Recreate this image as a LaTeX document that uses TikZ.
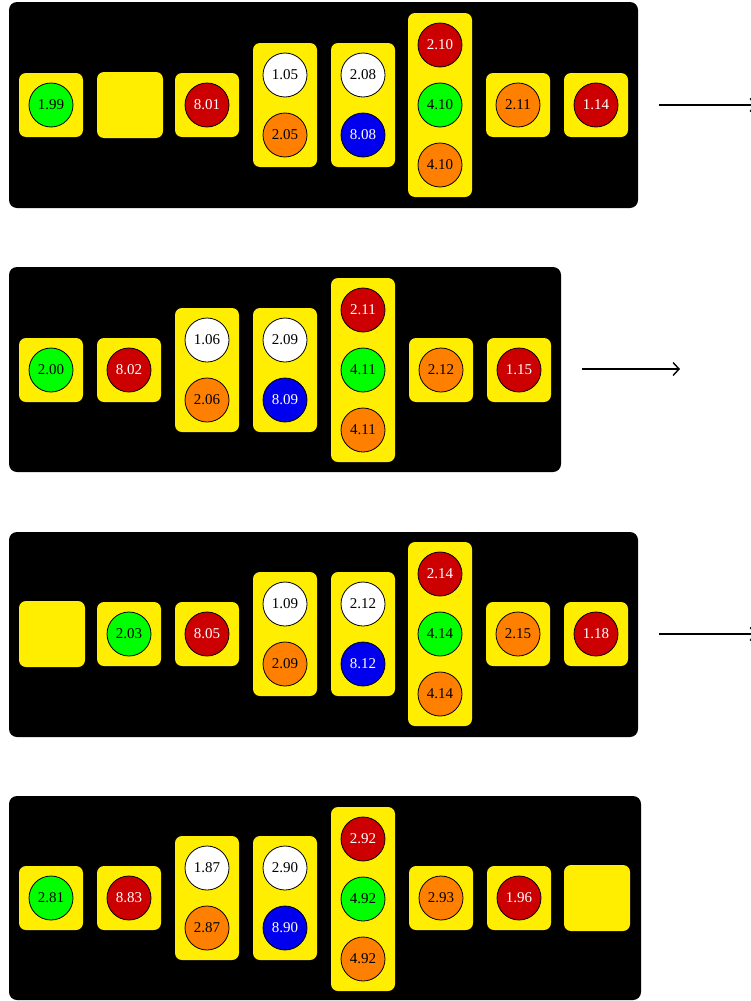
\documentclass[tikz,border=0pt]{standalone}
\usepackage{fontspec}
\setmainfont{Liberation Serif}
\usetikzlibrary{arrows.meta}
\definecolor{lampyellow}{RGB}{255,238,0}
\definecolor{lampgreen}{RGB}{0,255,0}
\definecolor{lampred}{RGB}{204,0,0}
\definecolor{lamporange}{RGB}{255,128,0}
\definecolor{lampblue}{RGB}{0,0,238}

\begin{document}
\begin{tikzpicture}[x=1pt,y=-1pt,>={Straight Barb[length=6pt,width=13pt]},
    panel/.style={fill=black,rounded corners=8pt,inner sep=0pt},
    box/.style={fill=lampyellow,rounded corners=7pt,inner sep=0pt,minimum width=64pt,minimum height=64pt},
    twin/.style={box,minimum height=124pt},
    triple/.style={box,minimum height=184pt},
    vacant/.style={box,minimum width=66pt,minimum height=66pt},
    disc/.style={circle,draw,line width=0.8pt,inner sep=0pt,minimum size=44pt,font=\fontsize{15pt}{18pt}\selectfont},
    G/.style={disc,fill=lampgreen},
    R/.style={disc,fill=lampred,text=white},
    O/.style={disc,fill=lamporange},
    B/.style={disc,fill=lampblue,text=white},
    W/.style={disc,fill=white}]
  \useasboundingbox (0,0) rectangle (751,1001);

  % row 1
  \node[panel,minimum width=629pt,minimum height=206pt] (P1) at (323.5,105) {};
  \node[box] (a1) at (51,105) {};
  \node[G] (a1c) at (51,105) {1.99};
  \node[vacant] (a2) at (130,105) {};
  \node[box] (a3) at (207,105) {};
  \node[R] (a3c) at (207,105) {8.01};
  \node[twin] (a4) at (285,105) {};
  \node[W] (a4t) at (285,75) {1.05};
  \node[O] (a4b) at (285,135) {2.05};
  \node[twin] (a5) at (363,105) {};
  \node[W] (a5t) at (363,75) {2.08};
  \node[B] (a5b) at (363,135) {8.08};
  \node[triple] (a6) at (440,105) {};
  \node[R] (a6t) at (440,45) {2.10};
  \node[G] (a6m) at (440,105) {4.10};
  \node[O] (a6b) at (440,165) {4.10};
  \node[box] (a7) at (518,105) {};
  \node[O] (a7c) at (518,105) {2.11};
  \node[box] (a8) at (596,105) {};
  \node[R] (a8c) at (596,105) {1.14};
  \coordinate (a-out) at (659,105);
  \coordinate (a-end) at (757,105);
  \draw[->,line width=1.4pt] (a-out) -- (a-end);

  % row 2
  \node[panel,minimum width=552pt,minimum height=205pt] (P2) at (285,369.5) {};
  \node[box] (b1) at (51,370) {};
  \node[G] (b1c) at (51,370) {2.00};
  \node[box] (b2) at (129,370) {};
  \node[R] (b2c) at (129,370) {8.02};
  \node[twin] (b3) at (207,370) {};
  \node[W] (b3t) at (207,340) {1.06};
  \node[O] (b3b) at (207,400) {2.06};
  \node[twin] (b4) at (285,370) {};
  \node[W] (b4t) at (285,340) {2.09};
  \node[B] (b4b) at (285,400) {8.09};
  \node[triple] (b5) at (363,370) {};
  \node[R] (b5t) at (363,310) {2.11};
  \node[G] (b5m) at (363,370) {4.11};
  \node[O] (b5b) at (363,430) {4.11};
  \node[box] (b6) at (441,370) {};
  \node[O] (b6c) at (441,370) {2.12};
  \node[box] (b7) at (519,370) {};
  \node[R] (b7c) at (519,370) {1.15};
  \coordinate (b-out) at (582,369);
  \coordinate (b-end) at (680,369);
  \draw[->,line width=1.4pt] (b-out) -- (b-end);

  % row 3
  \node[panel,minimum width=629pt,minimum height=205pt] (P3) at (323.5,634.5) {};
  \node[vacant] (c1) at (52,634) {};
  \node[box] (c2) at (129,634) {};
  \node[G] (c2c) at (129,634) {2.03};
  \node[box] (c3) at (207,634) {};
  \node[R] (c3c) at (207,634) {8.05};
  \node[twin] (c4) at (285,634) {};
  \node[W] (c4t) at (285,604) {1.09};
  \node[O] (c4b) at (285,664) {2.09};
  \node[twin] (c5) at (363,634) {};
  \node[W] (c5t) at (363,604) {2.12};
  \node[B] (c5b) at (363,664) {8.12};
  \node[triple] (c6) at (440,634) {};
  \node[R] (c6t) at (440,574) {2.14};
  \node[G] (c6m) at (440,634) {4.14};
  \node[O] (c6b) at (440,694) {4.14};
  \node[box] (c7) at (518,634) {};
  \node[O] (c7c) at (518,634) {2.15};
  \node[box] (c8) at (596,634) {};
  \node[R] (c8c) at (596,634) {1.18};
  \coordinate (c-out) at (659,634);
  \coordinate (c-end) at (757,634);
  \draw[->,line width=1.4pt] (c-out) -- (c-end);

  % row 4
  \node[panel,minimum width=632pt,minimum height=204pt] (P4) at (325,898) {};
  \node[box] (d1) at (51,898) {};
  \node[G] (d1c) at (51,898) {2.81};
  \node[box] (d2) at (129,898) {};
  \node[R] (d2c) at (129,898) {8.83};
  \node[twin] (d3) at (207,898) {};
  \node[W] (d3t) at (207,868) {1.87};
  \node[O] (d3b) at (207,928) {2.87};
  \node[twin] (d4) at (285,898) {};
  \node[W] (d4t) at (285,868) {2.90};
  \node[B] (d4b) at (285,928) {8.90};
  \node[triple] (d5) at (363,899) {};
  \node[R] (d5t) at (363,839) {2.92};
  \node[G] (d5m) at (363,899) {4.92};
  \node[O] (d5b) at (363,959) {4.92};
  \node[box] (d6) at (441,898) {};
  \node[O] (d6c) at (441,898) {2.93};
  \node[box] (d7) at (519,898) {};
  \node[R] (d7c) at (519,898) {1.96};
  \node[vacant] (d8) at (597,898) {};
\end{tikzpicture}
\end{document}
